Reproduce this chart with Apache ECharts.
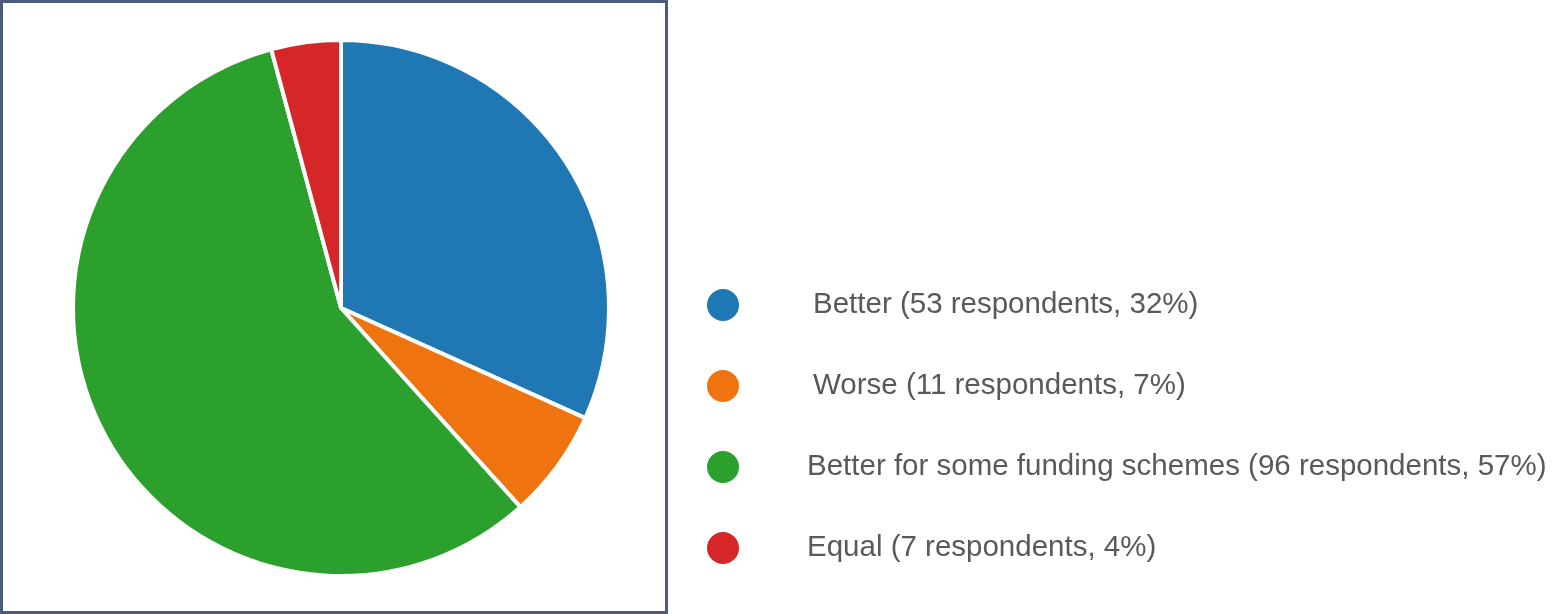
<!DOCTYPE html>
<html>
<head>
<meta charset="utf-8">
<script src="https://cdn.jsdelivr.net/npm/echarts@6/dist/echarts.min.js"></script>
<style>
html,body{margin:0;padding:0;background:#fff;}
#chart{width:1553px;height:614px;}
</style>
</head>
<body>
<div id="chart"></div>
<script>
const categories = ["Better", "Worse", "Better for some funding schemes", "Equal"];
const respondents = [53, 11, 96, 7];
const percentLabels = ["32%", "7%", "57%", "4%"];
const colors = ["#1f77b4", "#ef7410", "#2ca02c", "#d62728"];

const legendNames = categories.map((c, i) => c + " (" + respondents[i] + " respondents, " + percentLabels[i] + ")");

const chart = echarts.init(document.getElementById('chart'));
chart.setOption({
  animation: false,
  color: colors,
  graphic: [{
    type: 'rect',
    shape: { x: 1.5, y: 1.5, width: 665, height: 611 },
    style: { fill: 'none', stroke: '#4b5b7e', lineWidth: 3 },
    silent: true
  }],
  legend: {
    orient: 'vertical',
    left: 705,
    top: 287,
    padding: 0,
    itemWidth: 34,
    itemHeight: 34,
    itemGap: 45,
    icon: 'circle',
    selectedMode: false,
    data: legendNames.map((n, i) => ({
      name: n,
      textStyle: { padding: [0, 0, 0, i < 2 ? 68 : 62] }
    })),
    textStyle: {
      fontFamily: '"Liberation Sans", Arial, sans-serif',
      fontSize: 29.5,
      lineHeight: 34,
      color: '#595959'
    }
  },
  series: [{
    type: 'pie',
    center: [341, 308],
    radius: 268,
    startAngle: 90,
    clockwise: true,
    label: { show: false },
    labelLine: { show: false },
    emphasis: { disabled: true },
    itemStyle: { borderColor: '#ffffff', borderWidth: 4 },
    data: legendNames.map((n, i) => ({ name: n, value: respondents[i] }))
  }]
});
</script>
</body>
</html>
